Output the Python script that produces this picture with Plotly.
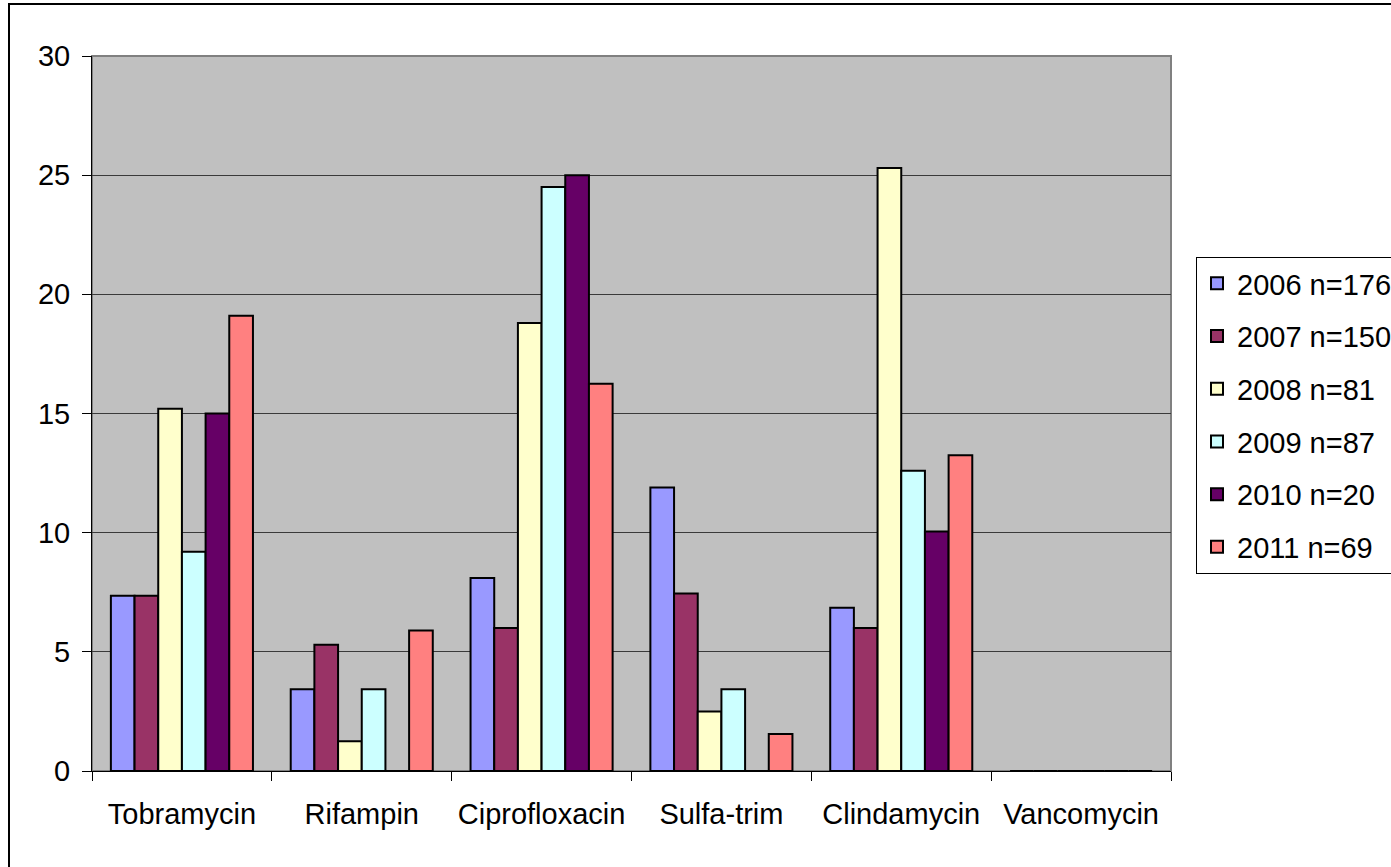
import plotly.graph_objects as go

categories = ["Tobramycin", "Rifampin", "Ciprofloxacin", "Sulfa-trim", "Clindamycin", "Vancomycin"]
series_names = ["2006 n=176", "2007 n=150", "2008 n=81", "2009 n=87", "2010 n=20", "2011 n=69"]
v2006 = [7.35, 3.43, 8.1, 11.9, 6.85, 0]
v2007 = [7.35, 5.3, 6.0, 7.45, 6.0, 0]
v2008 = [15.2, 1.25, 18.8, 2.5, 25.3, 0]
v2009 = [9.2, 3.43, 24.5, 3.43, 12.6, 0]
v2010 = [15.0, 0, 25.0, 0, 10.05, 0]
v2011 = [19.1, 5.9, 16.25, 1.55, 13.25, 0]
y_ticks = [0, 5, 10, 15, 20, 25, 30]

series_values = [v2006, v2007, v2008, v2009, v2010, v2011]
colors = ["#9999FF", "#993366", "#FFFFCC", "#CCFFFF", "#660066", "#FF8080"]

W, H = 1391, 867
L, R, T, B = 92, 1171, 56, 771

fig = go.Figure()
for name, vals, col in zip(series_names, series_values, colors):
    fig.add_trace(go.Bar(
        x=categories, y=vals, name=name, legendgroup=name,
        marker=dict(color=col, line=dict(color="black", width=2)),
    ))

pw, ph = R - L, B - T
def px2x(p):
    return (p - L) / pw
def py2y(p):
    return (B - p) / ph

FONT = "Liberation Sans, Arial, sans-serif"
fig.update_layout(
    width=W, height=H,
    margin=dict(l=L, r=W - R, t=T, b=H - B, pad=0, autoexpand=False),
    paper_bgcolor="white",
    plot_bgcolor="#C0C0C0",
    barmode="group",
    bargap=0.21,
    bargroupgap=0,
    font=dict(family=FONT, size=29, color="black"),
    showlegend=True,
    legend=dict(
        x=px2x(1196), y=py2y(257), xanchor="left", yanchor="top",
        bgcolor="white", bordercolor="black", borderwidth=1,
        font=dict(family=FONT, size=29, color="black"),
        tracegroupgap=12,
    ),
    xaxis=dict(
        showgrid=False, ticks="outside", tickson="boundaries", ticklen=9,
        tickcolor="black", showline=True, linecolor="black", linewidth=1,
        tickfont=dict(family=FONT, size=29), ticklabelstandoff=17,
    ),
    yaxis=dict(
        range=[0, 30], tickvals=y_ticks, ticks="outside", ticklen=9,
        tickcolor="black", showline=True, linecolor="black", linewidth=1,
        showgrid=True, gridcolor="#3a3a3a", gridwidth=1,
        tickfont=dict(family=FONT, size=29), zeroline=False,
        ticklabelstandoff=6,
    ),
    shapes=[
        dict(type="rect", xref="paper", yref="paper", x0=0, x1=1, y0=0, y1=1,
             line=dict(color="#808080", width=2), layer="below"),
        dict(type="rect", xref="paper", yref="paper",
             x0=px2x(9), x1=px2x(W + 10), y0=py2y(H + 10), y1=py2y(4),
             line=dict(color="black", width=2), fillcolor="rgba(0,0,0,0)"),
    ],
)

fig.write_html(
    "out.html",
    config={"displayModeBar": False},
    post_script="document.body.style.margin='0';document.body.style.overflow='hidden';",
)
